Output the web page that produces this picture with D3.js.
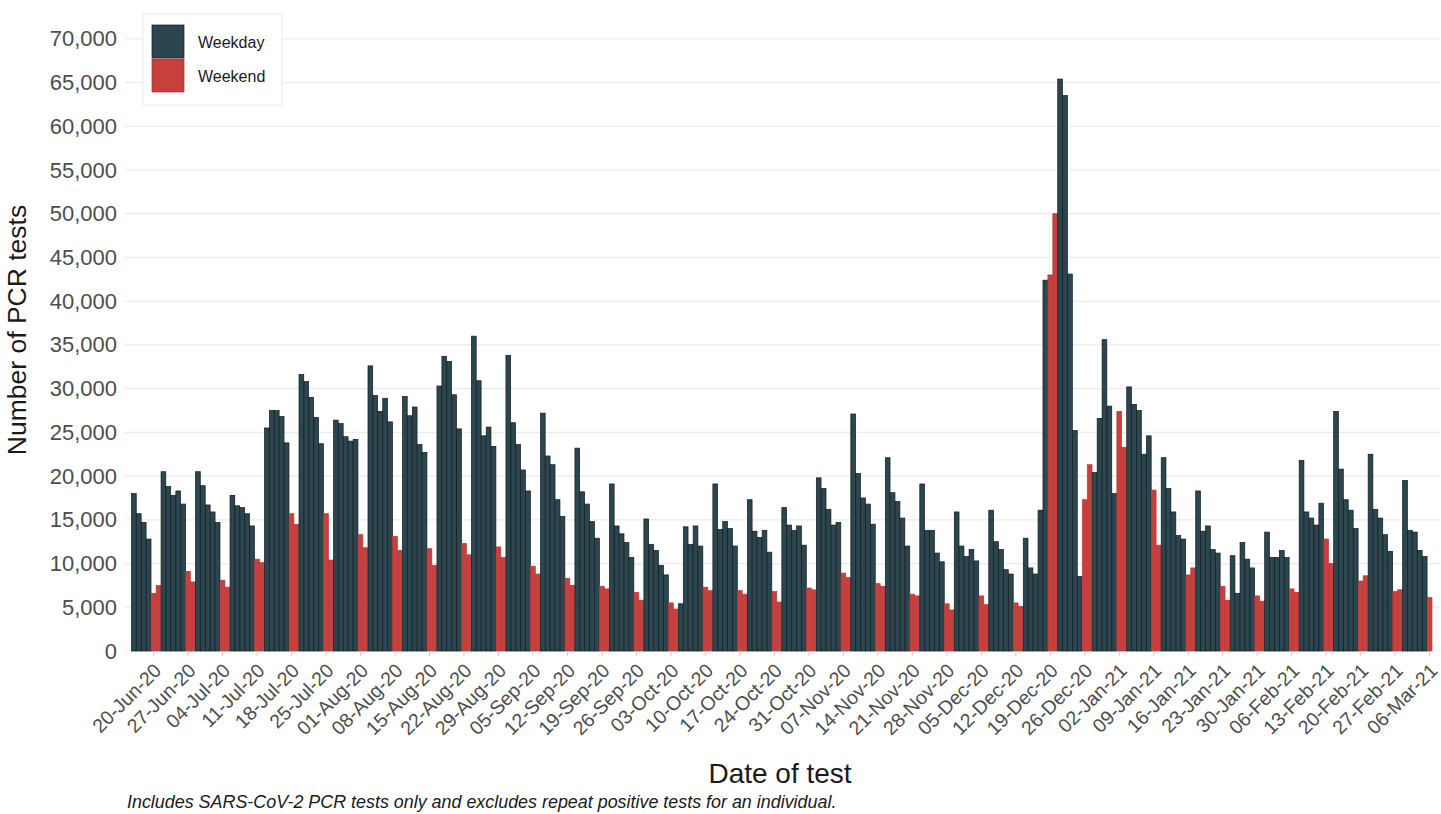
<!DOCTYPE html>
<html>
<head>
<meta charset="utf-8">
<script src="https://cdn.jsdelivr.net/npm/d3@7"></script>
<style>
  body { margin: 0; background: #fff; }
  svg { display: block; font-family: Arial, "Liberation Sans", sans-serif; }
</style>
</head>
<body>
<div id="chart"></div>
<script>
// first day of the series, one value per day after it
const startDate = new Date(2020, 5, 16);

// daily PCR tests, 16-Jun-20 to 06-Mar-21, read week by week (Mon-Fri, Sat, Sun)
const testCounts = [
    18000, 15700, 14700, 12800, 6600, 7500,
    20500, 18800, 17800, 18300, 16800, 9100, 7900,
    20500, 18900, 16700, 15900, 14700, 8100, 7300,
    17800, 16600, 16400, 15700, 14300, 10500, 10100,
    25500, 27500, 27500, 26800, 23800, 15700, 14500,
    31600, 30800, 29000, 26700, 23700, 15700, 10400,
    26400, 26000, 24500, 24000, 24200, 13300, 11800,
    32600, 29200, 27400, 28900, 26200, 13100, 11500,
    29100, 26900, 27900, 23600, 22700, 11700, 9800,
    30300, 33700, 33100, 29300, 25400, 12300, 11000,
    36000, 30900, 24600, 25600, 23400, 11900, 10700,
    33800, 26100, 23600, 20700, 18300, 9700, 8800,
    27200, 22300, 21300, 17300, 15400, 8300, 7500,
    23200, 18200, 16800, 14800, 12900, 7400, 7100,
    19100, 14300, 13400, 12400, 10700, 6700, 5800,
    15100, 12200, 11500, 9800, 8700, 5500, 4800,
    5400, 14200, 12200, 14300, 12000, 7300, 6900,
    19100, 13900, 14800, 14000, 12000, 6900, 6500,
    17300, 13700, 13000, 13800, 11300, 6800, 5600,
    16400, 14400, 13800, 14300, 12100, 7200, 7000,
    19800, 18600, 16200, 14400, 14700, 8900, 8400,
    27100, 20300, 17500, 16800, 14500, 7700, 7400,
    22100, 18100, 17100, 15200, 12000, 6500, 6300,
    19100, 13800, 13800, 11200, 10200, 5400, 4700,
    15900, 12000, 10800, 11600, 10300, 6300, 5300,
    16100, 12500, 11600, 9300, 8800, 5500, 5100,
    12900, 9500, 8800, 16100, 42400, 43000, 50000,
    65400, 63500, 43100, 25200, 8500, 17300, 21300,
    20400, 26600, 35600, 28000, 18000, 27400, 23300,
    30200, 28200, 27500, 22500, 24600, 18400, 12100,
    22100, 18600, 15900, 13200, 12800, 8700, 9500,
    18300, 13700, 14300, 11600, 11200, 7400, 5800,
    10900, 6600, 12400, 10500, 9500, 6300, 5700,
    13600, 10700, 10700, 11500, 10700, 7100, 6700,
    21800, 15900, 15200, 14400, 16900, 12800, 10000,
    27400, 20800, 17300, 16100, 14000, 8000, 8600,
    22500, 16200, 15200, 13300, 11400, 6800, 7000,
    19500, 13800, 13600, 11500, 10800, 6100
];

const tickLabels = [
    "20-Jun-20", "27-Jun-20", "04-Jul-20", "11-Jul-20", "18-Jul-20", "25-Jul-20",
    "01-Aug-20", "08-Aug-20", "15-Aug-20", "22-Aug-20", "29-Aug-20", "05-Sep-20",
    "12-Sep-20", "19-Sep-20", "26-Sep-20", "03-Oct-20", "10-Oct-20", "17-Oct-20",
    "24-Oct-20", "31-Oct-20", "07-Nov-20", "14-Nov-20", "21-Nov-20", "28-Nov-20",
    "05-Dec-20", "12-Dec-20", "19-Dec-20", "26-Dec-20", "02-Jan-21", "09-Jan-21",
    "16-Jan-21", "23-Jan-21", "30-Jan-21", "06-Feb-21", "13-Feb-21", "20-Feb-21",
    "27-Feb-21", "06-Mar-21"
];

const yTicks = [0, 5000, 10000, 15000, 20000, 25000, 30000, 35000, 40000, 45000, 50000, 55000, 60000, 65000, 70000];

const seriesNames = ["Weekday", "Weekend"];
const seriesColours = ["#2c4650", "#c6403e"];

const width = 1441;
const height = 814;

const parseLabel = d3.timeParse("%d-%b-%y");
const dayKey = d3.timeFormat("%Y-%m-%d");

// one record per day
const days = testCounts.map((value, i) => {
    const date = d3.timeDay.offset(startDate, i);
    const dow = date.getDay();
    return { key: dayKey(date), date, value, weekend: dow === 0 || dow === 6 };
});

const svg = d3.select("#chart").append("svg")
    .attr("width", width)
    .attr("height", height);

const x = d3.scaleBand()
    .domain(days.map(d => d.key))
    .range([131.5, 1432])
    .paddingInner(0.04);

const y = d3.scaleLinear()
    .domain([0, 70000])
    .range([651, 38.8]);

// horizontal gridlines
svg.append("g")
    .selectAll("line")
    .data(yTicks)
    .enter().append("line")
    .attr("x1", 125)
    .attr("x2", 1440)
    .attr("y1", d => y(d))
    .attr("y2", d => y(d))
    .attr("stroke", "#ebebeb")
    .attr("stroke-width", 1.2);

// y axis labels
const yAxis = svg.append("g")
    .attr("transform", "translate(121,0)")
    .call(d3.axisLeft(y).tickValues(yTicks).tickSize(0).tickPadding(4).tickFormat(d3.format(",")));
yAxis.select(".domain").remove();
yAxis.selectAll("text")
    .attr("font-size", 22)
    .attr("font-family", "Arial, 'Liberation Sans', sans-serif")
    .attr("fill", "#4d4d4d");

// bars
svg.append("g")
    .selectAll("rect")
    .data(days)
    .enter().append("rect")
    .attr("x", d => x(d.key))
    .attr("y", d => y(d.value))
    .attr("width", x.bandwidth())
    .attr("height", d => y(0) - y(d.value))
    .attr("fill", d => d.weekend ? seriesColours[1] : seriesColours[0])
    .attr("stroke", d => d.weekend ? "#b8393a" : "#111a1e")
    .attr("stroke-width", 0.7);

// x axis labels at each Saturday
const tickGroup = svg.append("g");
tickLabels.forEach(label => {
    const key = dayKey(parseLabel(label));
    const cx = x(key) + x.bandwidth() / 2;
    tickGroup.append("line")
        .attr("x1", cx).attr("x2", cx)
        .attr("y1", 652).attr("y2", 656)
        .attr("stroke", "#f0c4c4")
        .attr("stroke-width", 1);
    tickGroup.append("text")
        .attr("transform", `translate(${cx - 1},${662}) rotate(-45)`)
        .attr("text-anchor", "end")
        .attr("dy", "0.72em")
        .attr("font-size", 19.5)
        .attr("fill", "#4d4d4d")
        .text(label);
});

// axis titles
svg.append("text")
    .attr("transform", "translate(26,330) rotate(-90)")
    .attr("text-anchor", "middle")
    .attr("font-size", 26.5)
    .attr("fill", "#1a1a1a")
    .text("Number of PCR tests");

svg.append("text")
    .attr("x", 780)
    .attr("y", 783)
    .attr("text-anchor", "middle")
    .attr("font-size", 28)
    .attr("fill", "#1a1a1a")
    .text("Date of test");

// footnote
svg.append("text")
    .attr("x", 127)
    .attr("y", 808)
    .attr("font-size", 17.9)
    .attr("font-style", "italic")
    .attr("fill", "#1a1a1a")
    .text("Includes SARS-CoV-2 PCR tests only and excludes repeat positive tests for an individual.");

// legend
const legend = svg.append("g");
legend.append("rect")
    .attr("x", 143).attr("y", 14)
    .attr("width", 139).attr("height", 91)
    .attr("fill", "#fff")
    .attr("stroke", "#ececec");

seriesNames.forEach((name, i) => {
    legend.append("rect")
        .attr("x", 152).attr("y", 25 + i * 34)
        .attr("width", 32).attr("height", 33)
        .attr("fill", seriesColours[i])
        .attr("stroke", i === 0 ? "#111a1e" : "#9e3333")
        .attr("stroke-width", 0.7);
    legend.append("text")
        .attr("x", 198).attr("y", 42 + i * 34)
        .attr("dy", "0.35em")
        .attr("font-size", 16)
        .attr("fill", "#1a1a1a")
        .text(name);
});
</script>
</body>
</html>
